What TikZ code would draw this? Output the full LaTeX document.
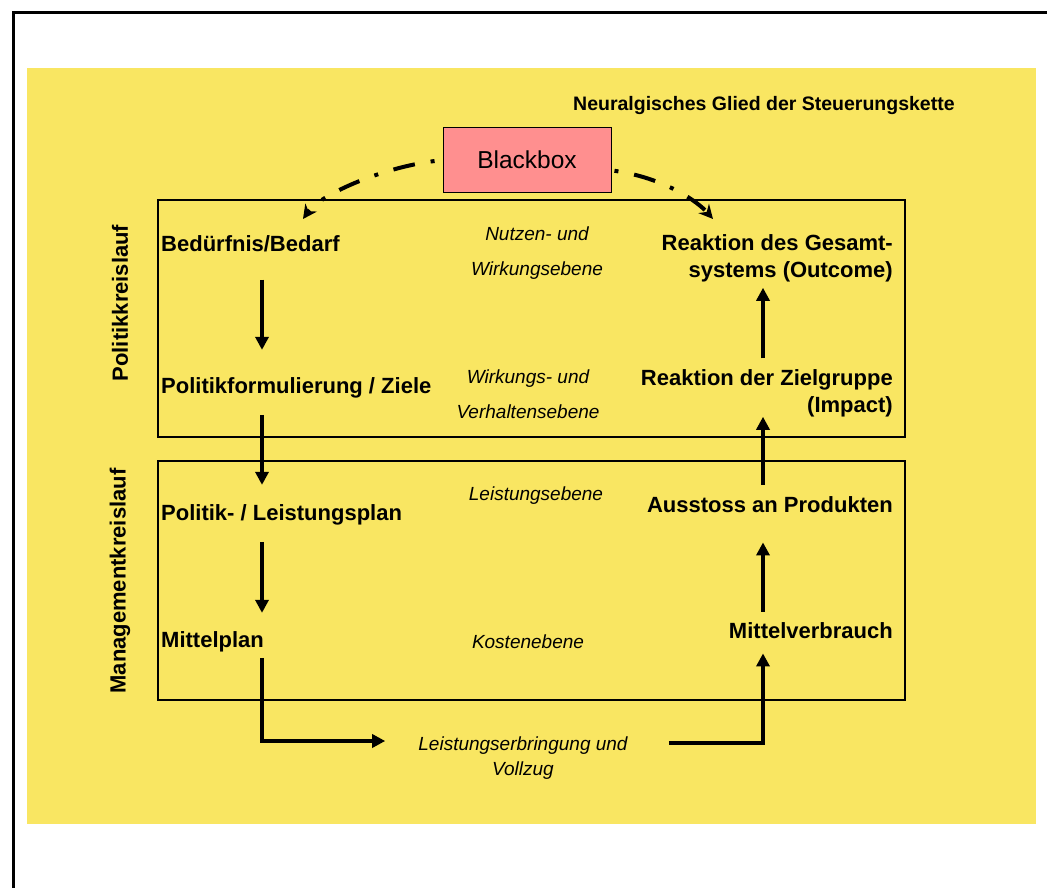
\documentclass[tikz,border=0pt]{standalone}
\usepackage{fontspec}
\setmainfont{Liberation Sans}
\usetikzlibrary{arrows.meta}
\definecolor{gelb}{RGB}{249,230,98}
\definecolor{rosa}{RGB}{255,143,143}

\begin{document}
\begin{tikzpicture}[x=1pt,y=-1pt,>={Triangle[length=13pt,width=13pt]},
    stufe/.style={font=\fontsize{22}{26.5}\selectfont\bfseries,inner sep=0pt},
    ebene/.style={font=\fontsize{19}{35}\selectfont\itshape,inner sep=0pt,align=center},
    kreis/.style={font=\fontsize{22}{26}\selectfont\bfseries,inner sep=0pt,rotate=90},
    rahmen/.style={line width=1.8pt},
    pfeil/.style={line width=3.5pt,->},
    schleife/.style={line width=4pt,dash pattern=on 4pt off 16pt on 22pt off 16pt,
      -{Stealth[length=14pt,width=14pt]}}]
  \useasboundingbox (0,0) rectangle (1047,888);
  \draw[line width=3pt] (13,888) -- (13,13) -- (1047,13);
  \fill[gelb] (27,68) rectangle (1036,824);

  \draw[rahmen] (158,200) rectangle (905,437);
  \draw[rahmen] (158,461) rectangle (905,700);

  \node[stufe,font=\fontsize{19.5}{23}\selectfont\bfseries,anchor=base west] (titel) at (573,111)
    {Neuralgisches Glied der Steuerungskette};
  \node[draw,fill=rosa,line width=1pt,minimum width=168pt,minimum height=64pt,
    font=\fontsize{24.5}{29}\selectfont] (bb) at (527,160) {Blackbox};

  \node[kreis] (politik) at (120,303) {Politikkreislauf};
  \node[kreis] (management) at (120,581) {Managementkreislauf};

  \node[stufe,anchor=base west] (bedarf) at (161,251) {Bedürfnis/Bedarf};
  \node[stufe,anchor=base west] (ziele) at (161,393) {Politikformulierung / Ziele};
  \node[stufe,anchor=base west] (plan) at (161,520) {Politik- / Leistungsplan};
  \node[stufe,anchor=base west] (mittel) at (161,647) {Mittelplan};

  \node[stufe,align=right,anchor=base east] (outcome) at (893,277) {Reaktion des Gesamt-\\systems (Outcome)};
  \node[stufe,align=right,anchor=base east] (impact) at (893,412) {Reaktion der Zielgruppe\\(Impact)};
  \node[stufe,anchor=base east] (ausstoss) at (893,512) {Ausstoss an Produkten};
  \node[stufe,anchor=base east] (verbrauch) at (893,638) {Mittelverbrauch};

  \node[ebene,anchor=base] (nutzen) at (537,275) {Nutzen- und\\Wirkungsebene};
  \node[ebene,anchor=base] (verhalten) at (528,418) {Wirkungs- und\\Verhaltensebene};
  \node[ebene,anchor=base] (leistung) at (536,500) {Leistungsebene};
  \node[ebene,anchor=base] (kosten) at (528,648) {Kostenebene};
  \node[ebene,font=\fontsize{19}{25}\selectfont\itshape,anchor=base] (vollzug) at (523,775)
    {Leistungserbringung und\\Vollzug};

  \coordinate (links) at (262,741);
  \coordinate (rechts) at (763,743);
  \coordinate (bedarfziel) at (303,219);
  \coordinate (outcomeziel) at (713,219);

  \draw[pfeil,shorten <=28pt,shorten >=27pt] (bedarf.south -| links) -- (ziele.north -| links);
  \draw[pfeil,shorten <=17pt,shorten >=19pt] (ziele.south -| links) -- (plan.north -| links);
  \draw[pfeil,shorten <=17pt,shorten >=18pt] (plan.south -| links) -- (mittel.north -| links);
  \draw[pfeil,shorten <=6pt,shorten >=33pt] (mittel.south -| links) -- (links) -- (vollzug.west |- links);

  \draw[pfeil,shorten <=41pt,shorten >=15pt] (vollzug.east |- rechts) -- (rechts) -- (verbrauch.south -| rechts);
  \draw[pfeil,shorten <=10pt,shorten >=30pt] (verbrauch.north -| rechts) -- (ausstoss.south -| rechts);
  \draw[pfeil,shorten <=11pt] (ausstoss.north -| rechts) -- (impact.south -| rechts);
  \draw[pfeil,shorten <=11pt,shorten >=6pt] (impact.north -| rechts) -- (outcome.south -| rechts);

  \draw[schleife,shorten <=8pt] (bb.west) .. controls (380,168) and (320,195) .. (bedarfziel);
  \draw[schleife,shorten <=3pt] (bb.-7) .. controls (665,178) and (698,202) .. (outcomeziel);
\end{tikzpicture}
\end{document}
